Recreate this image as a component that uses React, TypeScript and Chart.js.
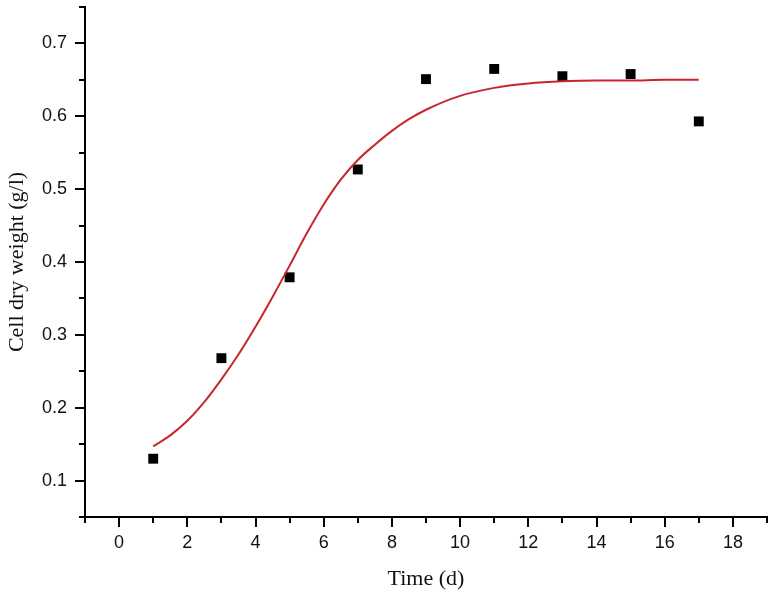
import React, { useEffect, useRef } from "react";
import { Chart, registerables } from "chart.js";

Chart.register(...registerables);

const timeDays = [1, 3, 5, 7, 9, 11, 13, 15, 17];
const dryWeight = [0.13, 0.268, 0.379, 0.527, 0.651, 0.665, 0.655, 0.658, 0.593];

const fitTime = [1, 1.5, 2, 2.5, 3, 3.5, 4, 4.5, 5, 5.5, 6, 6.5, 7, 7.5, 8, 8.5, 9, 10, 11, 12, 13, 14, 15, 16, 17];
const fitWeight = [0.147, 0.162, 0.182, 0.208, 0.239, 0.273, 0.311, 0.352, 0.395, 0.439, 0.479, 0.513, 0.540, 0.561, 0.580, 0.596, 0.609, 0.628, 0.639, 0.645, 0.648, 0.649, 0.649, 0.65, 0.65];

const xMajorTicks = [0, 2, 4, 6, 8, 10, 12, 14, 16, 18];
const xMinorTicks = [-1, 1, 3, 5, 7, 9, 11, 13, 15, 17, 19];
const yMajorTicks = [0.1, 0.2, 0.3, 0.4, 0.5, 0.6, 0.7];
const yMinorTicks = [0.05, 0.15, 0.25, 0.35, 0.45, 0.55, 0.65, 0.75];

const tickPlugin = {
  id: "axisTicks",
  afterDraw(chart: any) {
    const { ctx, scales } = chart;
    const xs = scales.x;
    const ys = scales.y;
    const yb = ys.getPixelForValue(0.05);
    const xl = xs.getPixelForValue(-1);
    ctx.save();
    ctx.strokeStyle = "#000";
    ctx.lineWidth = 2;
    const xt = (vals: number[], len: number) => {
      ctx.beginPath();
      for (const v of vals) {
        const px = Math.round(xs.getPixelForValue(v));
        ctx.moveTo(px, yb);
        ctx.lineTo(px, yb + len);
      }
      ctx.stroke();
    };
    const yt = (vals: number[], len: number) => {
      ctx.beginPath();
      for (const v of vals) {
        const py = Math.round(ys.getPixelForValue(v));
        ctx.moveTo(xl, py);
        ctx.lineTo(xl - len, py);
      }
      ctx.stroke();
    };
    xt(xMinorTicks, 6);
    xt(xMajorTicks, 10);
    yt(yMinorTicks, 6);
    yt(yMajorTicks, 10);
    ctx.restore();
  },
};

export default function App() {
  const ref = useRef<HTMLCanvasElement | null>(null);
  useEffect(() => {
    document.body.style.margin = "0";
    if (!ref.current) return;
    const chart = new Chart(ref.current, {
      type: "scatter",
      data: {
        datasets: [
          {
            label: "fit",
            data: fitTime.map((x, i) => ({ x, y: fitWeight[i] })),
            showLine: true,
            borderColor: "#c8262c",
            borderWidth: 2,
            pointRadius: 0,
            cubicInterpolationMode: "monotone",
          } as any,
          {
            label: "data",
            data: timeDays.map((x, i) => ({ x, y: dryWeight[i] })),
            pointStyle: "rect",
            pointRadius: 7,
            backgroundColor: "#000",
            borderWidth: 0,
          } as any,
        ],
      },
      options: {
        animation: false,
        responsive: true,
        maintainAspectRatio: false,
        layout: { padding: { top: 6, right: 4, left: 0, bottom: 0 } },
        plugins: { legend: { display: false }, tooltip: { enabled: false } },
        scales: {
          x: {
            type: "linear",
            min: -1,
            max: 19,
            afterBuildTicks: (s: any) => {
              s.ticks = xMajorTicks.map((v) => ({ value: v }));
            },
            afterFit: (s: any) => {
              s.height = 79;
              s.paddingLeft = 0;
              s.paddingRight = 0;
            },
            grid: { drawOnChartArea: false, tickLength: 9, tickColor: "rgba(0,0,0,0)" },
            border: { color: "#000", width: 2 },
            ticks: {
              color: "#111",
              padding: 6,
              maxRotation: 0,
              font: { family: "Arial, 'Liberation Sans', Helvetica, sans-serif", size: 18 },
              callback: (v: any) => String(v),
            },
            title: {
              display: true,
              text: "Time (d)",
              color: "#111",
              padding: { top: 4, bottom: 4 },
              font: { family: "'Times New Roman', 'Liberation Serif', serif", size: 22 },
            },
          },
          y: {
            type: "linear",
            min: 0.05,
            max: 0.75,
            afterBuildTicks: (s: any) => {
              s.ticks = yMajorTicks.map((v) => ({ value: v }));
            },
            afterFit: (s: any) => {
              s.width = 85;
              s.paddingTop = 0;
              s.paddingBottom = 0;
            },
            grid: { drawOnChartArea: false, tickLength: 9, tickColor: "rgba(0,0,0,0)" },
            border: { color: "#000", width: 2 },
            ticks: {
              color: "#111",
              padding: 9,
              font: { family: "Arial, 'Liberation Sans', Helvetica, sans-serif", size: 18 },
              callback: (v: any) => Number(v).toFixed(1),
            },
            title: {
              display: true,
              text: "Cell dry weight (g/l)",
              color: "#111",
              padding: { top: 4, bottom: 4 },
              font: { family: "'Times New Roman', 'Liberation Serif', serif", size: 22 },
            },
          },
        },
      },
      plugins: [tickPlugin],
    });
    return () => chart.destroy();
  }, []);
  return (
    <div style={{ position: "absolute", left: 0, top: 0, width: 774, height: 596 }}>
      <canvas ref={ref} />
    </div>
  );
}
